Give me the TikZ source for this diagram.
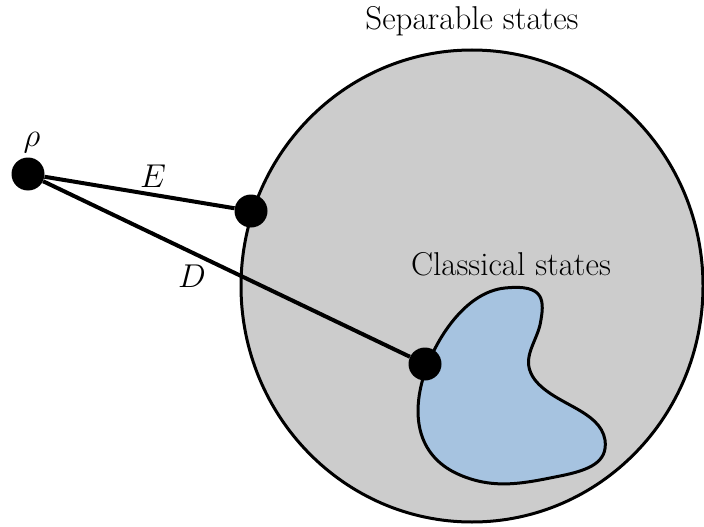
\documentclass[tikz,border=0pt]{standalone}
\usepackage{graphicx}
\definecolor{sepgray}{RGB}{204,204,204}
\definecolor{clblue}{RGB}{166,195,224}
\tikzset{
    statedot/.style={circle, fill=black, inner sep=0pt, minimum size=33pt},
    lbl/.style={font=\fontsize{33}{40}\selectfont, inner sep=0pt},
}
% math labels at 33pt
\newcommand{\biglbl}[1]{\scalebox{1.3264}{\Huge $#1$}}
\begin{document}
\begin{tikzpicture}[x=1pt, y=-1pt]
    \useasboundingbox (0,0) rectangle (704,527);

    % Separable states (big disc)
    \draw[line width=3pt, fill=sepgray] (472,286) ellipse [x radius=231, y radius=236];
    \node[lbl, anchor=base] (seplabel) at (472,30) {Separable states};

    % Classical states (blob)
    \draw[line width=3pt, fill=clblue] (505,288)
        .. controls (545,284) and (545,300) .. (540,325)
        .. controls (535,345) and (520,360) .. (535,380)
        .. controls (555,405) and (600,410) .. (605,440)
        .. controls (608,462) and (590,470) .. (560,476)
        .. controls (525,483) and (495,490) .. (460,475)
        .. controls (420,458) and (410,420) .. (424,375)
        .. controls (435,340) and (465,292) .. (505,288) -- cycle;
    \node[lbl, anchor=base] (cllabel) at (511,275) {Classical states};

    % States and distances
    \node[statedot] (rho) at (28,174) {};
    \node[statedot] (e) at (251,211) {};
    \node[statedot] (d) at (425,364) {};
    \draw[line width=4pt] (rho) -- (e);
    \draw[line width=4pt] (rho) -- (d);

    \node[lbl, anchor=base] (rholabel) at (32,146) {\biglbl{\rho}};
    \node[lbl, anchor=base] (elabel) at (153,187) {\biglbl{E}};
    \node[lbl, anchor=base] (dlabel) at (192,287) {\biglbl{D}};
\end{tikzpicture}
\end{document}
